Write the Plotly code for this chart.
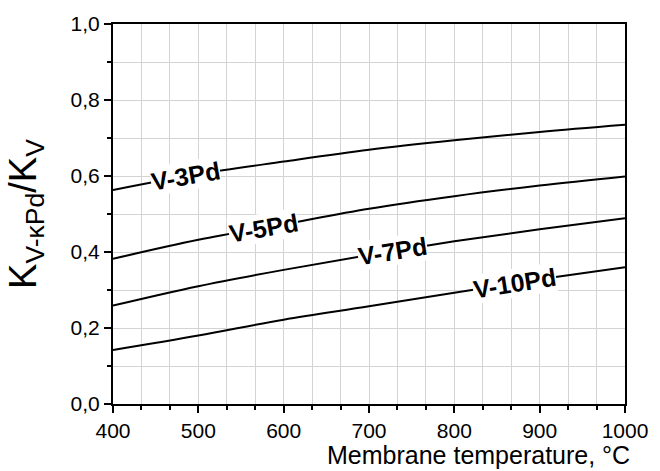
import numpy as np
import plotly.graph_objects as go

temps = [400, 500, 600, 700, 800, 900, 1000]
v3pd = [0.563, 0.605, 0.638, 0.669, 0.694, 0.716, 0.735]
v5pd = [0.382, 0.432, 0.473, 0.514, 0.547, 0.575, 0.599]
v7pd = [0.259, 0.310, 0.353, 0.392, 0.428, 0.460, 0.489]
v10pd = [0.142, 0.180, 0.222, 0.257, 0.293, 0.328, 0.360]

series = [("V-3Pd", v3pd), ("V-5Pd", v5pd), ("V-7Pd", v7pd), ("V-10Pd", v10pd)]
label_x = [485, 576, 728, 871]
label_angle = [-10, -10, -9, -9]

FONT = "Liberation Sans, Arial, sans-serif"

fig = go.Figure()
for name, vals in series:
    fig.add_trace(go.Scatter(x=temps, y=vals, mode="lines", name=name,
                             line=dict(color="black", width=2, shape="spline"),
                             showlegend=False))

for (name, vals), lx, ang in zip(series, label_x, label_angle):
    ly = float(np.interp(lx, temps, vals))
    fig.add_annotation(x=lx, y=ly, text="<b>%s</b>" % name, showarrow=False,
                       bgcolor="white", textangle=ang, borderpad=0,
                       font=dict(family=FONT, size=25, color="black"))

fig.add_annotation(xref="paper", yref="paper", x=1.012, y=-0.1335,
                   xanchor="right", yanchor="middle", showarrow=False,
                   text="Membrane temperature, °C", borderpad=0,
                   font=dict(family=FONT, size=25, color="black"))

fig.update_layout(
    width=660, height=471,
    margin=dict(l=113, r=26, t=22, b=67),
    plot_bgcolor="white", paper_bgcolor="white",
    separators=", ",
    font=dict(family=FONT, size=21, color="black"),
    xaxis=dict(range=[400, 1000], tick0=400, dtick=100,
               showline=True, linecolor="black", linewidth=2, mirror=True,
               ticks="outside", ticklen=7, tickcolor="black", tickwidth=1.5,
               showgrid=True, gridcolor="#d3d3d3", gridwidth=1,
               zeroline=False,
               minor=dict(dtick=100/3, tick0=400, ticks="outside", ticklen=4,
                          tickcolor="black", tickwidth=1.5, showgrid=True,
                          gridcolor="#d3d3d3", gridwidth=1),
               tickfont=dict(family=FONT, size=21)),
    yaxis=dict(range=[0, 1.0], tick0=0, dtick=0.2, tickformat=".1f",
               showline=True, linecolor="black", linewidth=2, mirror=True,
               ticks="outside", ticklen=7, tickcolor="black", tickwidth=1.5,
               showgrid=True, gridcolor="#d3d3d3", gridwidth=1,
               zeroline=False,
               minor=dict(dtick=0.1, ticks="outside", ticklen=4,
                          tickcolor="black", tickwidth=1.5, showgrid=True,
                          gridcolor="#d3d3d3", gridwidth=1),
               tickfont=dict(family=FONT, size=21),
               title=dict(text="K<sub>V-κPd</sub>/K<sub>V</sub>",
                          font=dict(family=FONT, size=38), standoff=22)),
)

fig.write_html("out.html")
